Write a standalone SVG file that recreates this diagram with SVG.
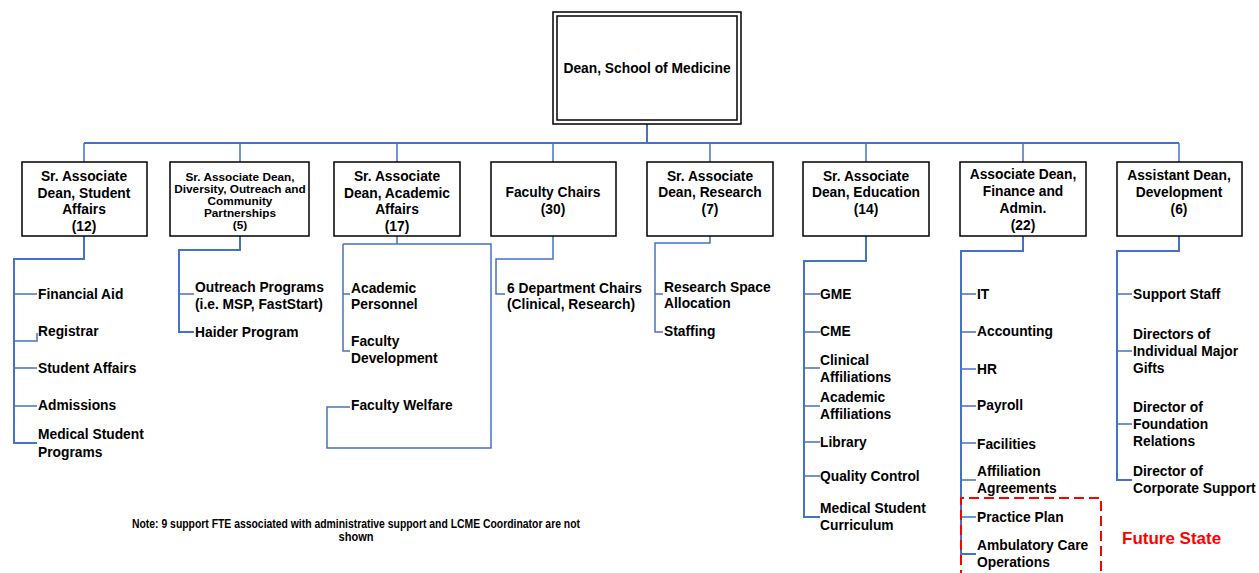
<svg xmlns="http://www.w3.org/2000/svg" width="1259" height="573" viewBox="0 0 1259 573">
<style>
text{font-family:"Liberation Sans",Arial,sans-serif;font-weight:bold;font-size:13.8px;fill:#000}
.c{text-anchor:middle}
.sm{font-size:11.8px}
.box{fill:#fff;stroke:#000;stroke-width:1.5}
.ln{fill:none;stroke:#4472C4;stroke-width:1.5}
.tr{fill:none;stroke:#4472C4;stroke-width:2}
.note{font-size:12.5px}
.fut{fill:#FF0000;font-size:17px}
</style>
<rect width="1259" height="573" fill="#fff"/>
<g id="connectors">
<path class="tr" d="M647,124V143M84,143H1179"/>
<path class="ln" d="M84,143V162M240,143V162M397,143V162M553,143V162M710,143V162M866,143V162M1023,143V162M1179,143V162"/>
<path class="tr" d="M84,236V259H14V443H37"/>
<path class="ln" d="M14,294H37M14,341H37V333M14,368H37M14,406H37"/>
<path class="tr" d="M240,236V250H179V332H194"/>
<path class="ln" d="M179,294H194"/>
<path class="ln" d="M397,236V244M343,244H491V448H327V407H350M343,244V351H350M343,294H350"/>
<path class="ln" d="M553,236V259H496V294H505"/>
<path class="ln" d="M710,236V243H655V332H663M655,294H663"/>
<path class="tr" d="M866,236V261H804V517H820"/>
<path class="ln" d="M804,294H820M804,332H820M804,368H820M804,406H820M804,442H820M804,476H820"/>
<path class="tr" d="M1023,236V251H961V554H976"/>
<path class="ln" d="M961,294H976M961,332H976M961,369H976M961,406H976M961,443H976M961,480H976M961,517H976"/>
<path class="tr" d="M1179,236V251H1117V480H1132"/>
<path class="ln" d="M1117,294H1132M1117,351H1132M1117,424H1132"/>
</g>
<g id="dean">
<rect class="box" x="553" y="12" width="188" height="112"/>
<rect class="box" x="557" y="16" width="180" height="104"/>
<text class="c" x="647" y="73">Dean, School of Medicine</text>
</g>
<g id="student-affairs">
<rect class="box" x="22" y="162" width="125" height="74"/>
<text class="c" x="84" y="181">Sr. Associate</text>
<text class="c" x="84" y="198">Dean, Student</text>
<text class="c" x="84" y="214">Affairs</text>
<text class="c" x="84" y="231">(12)</text>
</g>
<g id="diversity">
<rect class="box" x="170" y="162" width="139" height="74"/>
<text class="c sm" x="240" y="181">Sr. Associate Dean,</text>
<text class="c sm" x="240" y="193">Diversity, Outreach and</text>
<text class="c sm" x="240" y="205">Community</text>
<text class="c sm" x="240" y="217">Partnerships</text>
<text class="c sm" x="240" y="229">(5)</text>
</g>
<g id="academic-affairs">
<rect class="box" x="334" y="162" width="126" height="74"/>
<text class="c" x="397" y="181">Sr. Associate</text>
<text class="c" x="397" y="198">Dean, Academic</text>
<text class="c" x="397" y="214">Affairs</text>
<text class="c" x="397" y="231">(17)</text>
</g>
<g id="faculty-chairs">
<rect class="box" x="491" y="162" width="125" height="74"/>
<text class="c" x="553" y="197">Faculty Chairs</text>
<text class="c" x="553" y="214">(30)</text>
</g>
<g id="research">
<rect class="box" x="647" y="162" width="126" height="74"/>
<text class="c" x="710" y="181">Sr. Associate</text>
<text class="c" x="710" y="197">Dean, Research</text>
<text class="c" x="710" y="214">(7)</text>
</g>
<g id="education">
<rect class="box" x="803" y="162" width="126" height="74"/>
<text class="c" x="866" y="181">Sr. Associate</text>
<text class="c" x="866" y="197">Dean, Education</text>
<text class="c" x="866" y="214">(14)</text>
</g>
<g id="finance">
<rect class="box" x="960" y="162" width="126" height="74"/>
<text class="c" x="1023" y="179">Associate Dean,</text>
<text class="c" x="1023" y="196">Finance and</text>
<text class="c" x="1023" y="213">Admin.</text>
<text class="c" x="1023" y="230">(22)</text>
</g>
<g id="development">
<rect class="box" x="1117" y="162" width="125" height="74"/>
<text class="c" x="1179" y="180">Assistant Dean,</text>
<text class="c" x="1179" y="197">Development</text>
<text class="c" x="1179" y="214">(6)</text>
</g>
<g id="student-affairs-units">
<text x="38" y="299">Financial Aid</text>
<text x="38" y="336">Registrar</text>
<text x="38" y="373">Student Affairs</text>
<text x="38" y="410">Admissions</text>
<text x="38" y="439">Medical Student</text>
<text x="38" y="457">Programs</text>
</g>
<g id="diversity-units">
<text x="195" y="292">Outreach Programs</text>
<text x="195" y="309">(i.e. MSP, FastStart)</text>
<text x="195" y="337">Haider Program</text>
</g>
<g id="academic-units">
<text x="351" y="293">Academic</text>
<text x="351" y="309">Personnel</text>
<text x="351" y="346">Faculty</text>
<text x="351" y="363">Development</text>
<text x="351" y="410">Faculty Welfare</text>
</g>
<g id="chairs-units">
<text x="507" y="293">6 Department Chairs</text>
<text x="507" y="309">(Clinical, Research)</text>
</g>
<g id="research-units">
<text x="664" y="292">Research Space</text>
<text x="664" y="308">Allocation</text>
<text x="664" y="336">Staffing</text>
</g>
<g id="education-units">
<text x="820" y="299">GME</text>
<text x="820" y="336">CME</text>
<text x="820" y="365">Clinical</text>
<text x="820" y="382">Affiliations</text>
<text x="820" y="402">Academic</text>
<text x="820" y="419">Affiliations</text>
<text x="820" y="447">Library</text>
<text x="820" y="481">Quality Control</text>
<text x="820" y="513">Medical Student</text>
<text x="820" y="530">Curriculum</text>
</g>
<g id="finance-units">
<text x="977" y="299">IT</text>
<text x="977" y="336">Accounting</text>
<text x="977" y="374">HR</text>
<text x="977" y="410">Payroll</text>
<text x="977" y="449">Facilities</text>
<text x="977" y="476">Affiliation</text>
<text x="977" y="493">Agreements</text>
<text x="977" y="522">Practice Plan</text>
<text x="977" y="550">Ambulatory Care</text>
<text x="977" y="567">Operations</text>
</g>
<g id="development-units">
<text x="1133" y="299">Support Staff</text>
<text x="1133" y="339">Directors of</text>
<text x="1133" y="356">Individual Major</text>
<text x="1133" y="373">Gifts</text>
<text x="1133" y="412">Director of</text>
<text x="1133" y="429">Foundation</text>
<text x="1133" y="446">Relations</text>
<text x="1133" y="476">Director of</text>
<text x="1133" y="493">Corporate Support</text>
</g>
<g id="future-state">
<path d="M961,580V498H1101V580" fill="none" stroke="#FF0000" stroke-width="2" stroke-dasharray="10,5"/>
<text class="fut" x="1122" y="544">Future State</text>
</g>
<g id="note">
<text class="c note" x="356" y="528" textLength="448" lengthAdjust="spacingAndGlyphs">Note: 9 support FTE associated with administrative support and LCME Coordinator are not</text>
<text class="c note" x="356" y="541" textLength="35" lengthAdjust="spacingAndGlyphs">shown</text>
</g>
</svg>
